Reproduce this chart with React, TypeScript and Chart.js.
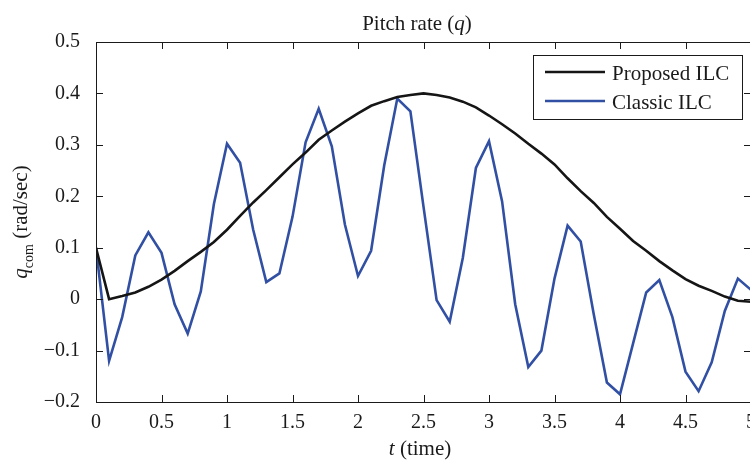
import { useEffect, useRef } from 'react';
import { Chart, registerables } from 'chart.js';

Chart.register(...registerables);

const times = [
  0, 0.1, 0.2, 0.3, 0.4, 0.5, 0.6, 0.7, 0.8, 0.9,
  1.0, 1.1, 1.2, 1.3, 1.4, 1.5, 1.6, 1.7, 1.8, 1.9,
  2.0, 2.1, 2.2, 2.3, 2.4, 2.5, 2.6, 2.7, 2.8, 2.9,
  3.0, 3.1, 3.2, 3.3, 3.4, 3.5, 3.6, 3.7, 3.8, 3.9,
  4.0, 4.1, 4.2, 4.3, 4.4, 4.5, 4.6, 4.7, 4.8, 4.9, 5.0,
];

const proposedILC = [
  0.1, 0.0, 0.006, 0.013, 0.024, 0.038, 0.055, 0.074, 0.092, 0.111,
  0.135, 0.162, 0.188, 0.212, 0.237, 0.262, 0.285, 0.31, 0.328, 0.345,
  0.361, 0.376, 0.385, 0.393, 0.397, 0.4, 0.397, 0.392, 0.384, 0.373,
  0.357, 0.34, 0.322, 0.302, 0.283, 0.262, 0.235, 0.21, 0.187, 0.16,
  0.137, 0.113, 0.094, 0.074, 0.056, 0.039, 0.026, 0.016, 0.005, -0.003, -0.005,
];

const classicILC = [
  0.1, -0.12, -0.035, 0.085, 0.13, 0.09, -0.01, -0.067, 0.015, 0.185,
  0.302, 0.265, 0.135, 0.033, 0.05, 0.16, 0.305, 0.37, 0.297, 0.145,
  0.045, 0.094, 0.26, 0.39, 0.365, 0.18, -0.002, -0.044, 0.08, 0.255,
  0.307, 0.19, -0.01, -0.132, -0.1, 0.04, 0.143, 0.112, -0.03, -0.162,
  -0.185, -0.086, 0.013, 0.037, -0.035, -0.141, -0.179, -0.123, -0.023, 0.04, 0.018,
];

const seriesLabels = ['Proposed ILC', 'Classic ILC'];
const xTicks = [0, 0.5, 1, 1.5, 2, 2.5, 3, 3.5, 4, 4.5, 5];
const yTicks = [-0.2, -0.1, 0, 0.1, 0.2, 0.3, 0.4, 0.5];

const FONT = '"Liberation Serif", "DejaVu Serif", serif';
const INK = '#1a1a1a';
const BLACK = '#151515';
const BLUE = '#3150a4';

const fmt = (v: number) => String(Math.round(v * 10) / 10).replace('-', '\u2212');

type Seg = { text: string; italic?: boolean; size: number; dy?: number };

function drawSegs(ctx: CanvasRenderingContext2D, segs: Seg[], cx: number, baseline: number) {
  let total = 0;
  const widths = segs.map((s) => {
    ctx.font = `${s.italic ? 'italic ' : ''}${s.size}px ${FONT}`;
    const w = ctx.measureText(s.text).width;
    total += w;
    return w;
  });
  let x = cx - total / 2;
  segs.forEach((s, i) => {
    ctx.font = `${s.italic ? 'italic ' : ''}${s.size}px ${FONT}`;
    ctx.fillText(s.text, x, baseline + (s.dy || 0));
    x += widths[i];
  });
}

const decor = {
  id: 'decor',
  afterDraw(chart: any) {
    const { ctx, chartArea: ca, scales } = chart;
    ctx.save();
    // axes box
    ctx.strokeStyle = INK;
    ctx.lineWidth = 1;
    ctx.strokeRect(ca.left + 0.5, ca.top + 0.5, ca.right - ca.left, ca.bottom - ca.top);
    // inward ticks on all sides
    const tl = 7;
    ctx.beginPath();
    scales.x.ticks.forEach((t: any) => {
      const px = Math.round(scales.x.getPixelForValue(t.value)) + 0.5;
      ctx.moveTo(px, ca.bottom);
      ctx.lineTo(px, ca.bottom - tl);
      ctx.moveTo(px, ca.top);
      ctx.lineTo(px, ca.top + tl);
    });
    scales.y.ticks.forEach((t: any) => {
      const py = Math.round(scales.y.getPixelForValue(t.value)) + 0.5;
      ctx.moveTo(ca.left, py);
      ctx.lineTo(ca.left + tl, py);
      ctx.moveTo(ca.right, py);
      ctx.lineTo(ca.right - tl, py);
    });
    ctx.stroke();

    ctx.fillStyle = INK;
    ctx.textBaseline = 'alphabetic';
    ctx.textAlign = 'left';
    const cx = (ca.left + ca.right) / 2;
    // title
    drawSegs(ctx, [
      { text: 'Pitch rate (', size: 21 },
      { text: 'q', size: 21, italic: true },
      { text: ')', size: 21 },
    ], cx - 6.5, 30);
    // x label
    drawSegs(ctx, [
      { text: 't', size: 21, italic: true },
      { text: ' (time)', size: 21 },
    ], cx - 3.5, 455);
    // y label
    ctx.save();
    ctx.translate(26.5, (ca.top + ca.bottom) / 2);
    ctx.rotate(-Math.PI / 2);
    drawSegs(ctx, [
      { text: 'q', size: 21, italic: true },
      { text: 'com', size: 14, dy: 6 },
      { text: ' (rad/sec)', size: 21 },
    ], 0, 0);
    ctx.restore();

    // legend
    const lx = ca.right - 218;
    const ly = ca.top + 12.5;
    ctx.fillStyle = '#ffffff';
    ctx.fillRect(lx, ly, 209, 64);
    ctx.strokeStyle = INK;
    ctx.lineWidth = 1;
    ctx.strokeRect(Math.round(lx) + 0.5, Math.round(ly) + 0.5, 209, 64);
    chart.data.datasets.forEach((ds: any, i: number) => {
      const y = ly + 17.5 + i * 29;
      ctx.strokeStyle = ds.borderColor;
      ctx.lineWidth = 2.5;
      ctx.beginPath();
      ctx.moveTo(lx + 12, y);
      ctx.lineTo(lx + 72, y);
      ctx.stroke();
      ctx.fillStyle = INK;
      ctx.font = `21px ${FONT}`;
      ctx.fillText(ds.label, lx + 79, ly + 25.7 + i * 29);
    });
    ctx.restore();
  },
};

export default function App() {
  const ref = useRef<HTMLCanvasElement>(null);
  useEffect(() => {
    const canvas = ref.current;
    if (!canvas) return;
    const chart = new Chart(canvas, {
      type: 'line',
      data: {
        datasets: [
          {
            label: seriesLabels[0],
            data: times.map((t, i) => ({ x: t, y: proposedILC[i] })),
            borderColor: BLACK,
            borderWidth: 2.6,
            pointRadius: 0,
            tension: 0,
          },
          {
            label: seriesLabels[1],
            data: times.map((t, i) => ({ x: t, y: classicILC[i] })),
            borderColor: BLUE,
            borderWidth: 2.6,
            pointRadius: 0,
            tension: 0,
          },
        ],
      },
      options: {
        animation: false,
        responsive: false,
        devicePixelRatio: 1,
        layout: { padding: { top: 42, right: 14, left: 0, bottom: 0 } },
        plugins: {
          legend: { display: false },
          title: { display: false },
          tooltip: { enabled: false },
        },
        scales: {
          x: {
            type: 'linear',
            min: 0,
            max: 5,
            grid: { display: false },
            border: { display: false },
            afterBuildTicks: (s: any) => {
              s.ticks = xTicks.map((v) => ({ value: v }));
            },
            afterFit: (s: any) => {
              s.height = 58;
            },
            ticks: {
              autoSkip: false,
              maxRotation: 0,
              padding: 1,
              color: INK,
              font: { family: FONT, size: 20 },
              callback: (v: any) => fmt(Number(v)),
            },
          },
          y: {
            type: 'linear',
            min: -0.2,
            max: 0.5,
            grid: { display: false },
            border: { display: false },
            afterBuildTicks: (s: any) => {
              s.ticks = yTicks.map((v) => ({ value: v }));
            },
            afterFit: (s: any) => {
              s.width = 96;
            },
            ticks: {
              autoSkip: false,
              padding: 8,
              color: INK,
              font: { family: FONT, size: 20 },
              callback: (v: any) => fmt(Number(v)),
            },
          },
        },
      },
      plugins: [decor],
    });
    return () => chart.destroy();
  }, []);

  return (
    <div
      style={{
        position: 'fixed',
        left: 0,
        top: 0,
        width: 750,
        height: 460,
        overflow: 'hidden',
        background: '#ffffff',
      }}
    >
      <canvas ref={ref} width={765} height={460} style={{ display: 'block', width: 765, height: 460 }} />
    </div>
  );
}
